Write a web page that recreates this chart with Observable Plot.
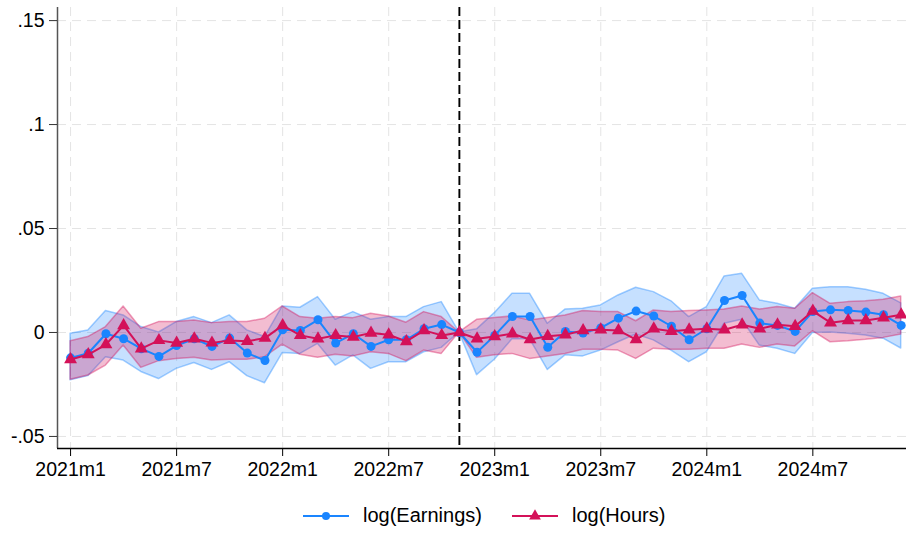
<!DOCTYPE html>
<html>
<head>
<meta charset="utf-8">
<script src="https://cdn.jsdelivr.net/npm/d3@7"></script>
<script src="https://cdn.jsdelivr.net/npm/@observablehq/plot@0.6"></script>
<style>
  html, body { margin: 0; padding: 0; background: #fff; }
  body { width: 906px; height: 536px; overflow: hidden; font-family: "Liberation Sans", Arial, sans-serif; }
  #legend { position: relative; height: 46px; width: 906px; }
  .item { position: absolute; top: 14px; display: flex; align-items: center; font-size: 20px; color: #000; }
  .item svg { margin-right: 14px; }
</style>
</head>
<body>
<div id="chart"></div>
<div id="legend"></div>
<script>
const months = ["2021m1","2021m2","2021m3","2021m4","2021m5","2021m6","2021m7","2021m8","2021m9","2021m10","2021m11","2021m12",
"2022m1","2022m2","2022m3","2022m4","2022m5","2022m6","2022m7","2022m8","2022m9","2022m10","2022m11","2022m12",
"2023m1","2023m2","2023m3","2023m4","2023m5","2023m6","2023m7","2023m8","2023m9","2023m10","2023m11","2023m12",
"2024m1","2024m2","2024m3","2024m4","2024m5","2024m6","2024m7","2024m8","2024m9","2024m10","2024m11","2024m12"];

const xTickLabels = ["2021m1","2021m7","2022m1","2022m7","2023m1","2023m7","2024m1","2024m7"];
const yTicks = [-0.05, 0, 0.05, 0.1, 0.15];
const yTickLabels = ["-.05", "0", ".05", ".1", ".15"];
const refMonth = "2022m11";

const earnings = [-0.0122,-0.010,-0.0006,-0.003,-0.0078,-0.0115,-0.0063,-0.003,-0.0067,-0.0027,-0.0099,-0.0135,
 0.0013,0.001,0.0061,-0.0051,-0.0006,-0.0067,-0.0035,-0.0035,0.0018,0.0038,0,-0.0095,
 -0.0014,0.0077,0.0077,-0.0071,0.0005,-0.0003,0.0022,0.0069,0.0103,0.0079,0.003,-0.0035,
 0.0018,0.0154,0.0178,0.0045,0.0034,0.0005,0.0101,0.0109,0.0106,0.0098,0.0085,0.0034];
const earningsHi = [-0.0006,0.001,0.0103,0.0082,0.0026,0,0.005,0.0074,0.0045,0.0082,0.001,-0.0022,
 0.0125,0.0119,0.017,0.0061,0.0098,0.0061,0.0074,0.0074,0.0122,0.0146,0,0.0015,
 0.0093,0.0186,0.0186,0.0042,0.011,0.0114,0.013,0.0178,0.0215,0.0194,0.015,0.0074,
 0.0122,0.0269,0.0282,0.0154,0.0138,0.0114,0.021,0.0218,0.0218,0.0205,0.0186,0.014];
const earningsLo = [-0.023,-0.021,-0.0119,-0.0135,-0.019,-0.0224,-0.0175,-0.0147,-0.018,-0.0143,-0.021,-0.0244,
 -0.0099,-0.0103,-0.0055,-0.0159,-0.011,-0.0175,-0.0143,-0.0143,-0.0095,-0.0074,0,-0.0205,
 -0.0131,-0.0033,-0.0033,-0.018,-0.011,-0.0115,-0.0087,-0.0047,-0.001,-0.0038,-0.0087,-0.0143,
 -0.0095,0.0042,0.0061,-0.0063,-0.0078,-0.0103,-0.0003,0,-0.0006,-0.0014,-0.003,-0.0077];

const hours = [-0.013,-0.0106,-0.0058,0.0034,-0.0078,-0.0038,-0.0051,-0.003,-0.005,-0.0038,-0.0042,-0.0027,
 0.0034,-0.0014,-0.003,-0.0014,-0.0022,-0.0002,-0.0011,-0.0043,0.001,-0.0014,0,-0.003,
 -0.0019,-0.0006,-0.0034,-0.0018,-0.0011,0.001,0.0013,0.001,-0.0034,0.0018,0.0006,0.0013,
 0.0018,0.0013,0.0037,0.0018,0.0037,0.003,0.0103,0.0047,0.0058,0.0058,0.0071,0.0085];
const hoursHi = [-0.0042,-0.0022,0.0026,0.0125,0.0018,0.005,0.005,0.0058,0.0045,0.005,0.005,0.0066,
 0.0125,0.0074,0.0066,0.0074,0.0069,0.009,0.0077,0.0047,0.0098,0.0074,0,0.0061,
 0.007,0.0077,0.0058,0.007,0.0082,0.0103,0.0098,0.0098,0.0054,0.0106,0.0098,0.0103,
 0.0106,0.011,0.0125,0.011,0.0122,0.0114,0.0189,0.0138,0.0146,0.015,0.0157,0.0173];
const hoursLo = [-0.0227,-0.0207,-0.0159,-0.0063,-0.017,-0.0138,-0.0127,-0.0122,-0.0135,-0.0131,-0.0131,-0.0119,
 -0.0058,-0.0107,-0.0122,-0.0107,-0.0115,-0.0095,-0.0103,-0.0138,-0.0087,-0.0103,0,-0.0122,
 -0.011,-0.0103,-0.0127,-0.0115,-0.0103,-0.0083,-0.0083,-0.0087,-0.0127,-0.0078,-0.0083,-0.0083,
 -0.0078,-0.0078,-0.0058,-0.0074,-0.0058,-0.0067,0.0006,-0.0047,-0.0042,-0.0035,-0.0026,-0.001];

const blue = "#1a85ff";
const red = "#d41159";

const data = months.map((m, i) => ({
  i, m,
  earn: earnings[i], earnHi: earningsHi[i], earnLo: earningsLo[i],
  hrs: hours[i], hrsHi: hoursHi[i], hrsLo: hoursLo[i]
}));

const xTickIdx = xTickLabels.map(l => months.indexOf(l));
const refIdx = months.indexOf(refMonth);
const xDomain = [-0.74, 47.3];
const yDomain = [-0.0558, 0.1563];
const grid = {stroke: "#e4e4e4", strokeOpacity: 1, strokeDasharray: "9,6", strokeWidth: 1};

const chart = Plot.plot({
  width: 906,
  height: 490,
  marginLeft: 57,
  marginRight: 0,
  marginTop: 7,
  marginBottom: 42,
  style: {fontFamily: "'Liberation Sans', Arial, sans-serif", fontSize: "19.5px", color: "#000", background: "#fff"},
  x: {type: "linear", domain: xDomain},
  y: {domain: yDomain},
  marks: [
    Plot.gridX(xTickIdx, grid),
    Plot.gridY(yTicks, grid),
    Plot.areaY(data, {x: "i", y1: "earnLo", y2: "earnHi", fill: blue, fillOpacity: 0.25, stroke: blue, strokeOpacity: 0.4, strokeWidth: 1.5}),
    Plot.areaY(data, {x: "i", y1: "hrsLo", y2: "hrsHi", fill: red, fillOpacity: 0.28, stroke: red, strokeOpacity: 0.4, strokeWidth: 1.5}),
    Plot.ruleX([refIdx], {stroke: "#000", strokeWidth: 1.9, strokeDasharray: "9,4"}),
    Plot.line(data, {x: "i", y: "earn", stroke: blue, strokeWidth: 2}),
    Plot.dot(data, {x: "i", y: "earn", fill: blue, r: 4.5, stroke: null}),
    Plot.line(data, {x: "i", y: "hrs", stroke: red, strokeWidth: 2}),
    Plot.dot(data, {x: "i", y: "hrs", fill: red, symbol: "triangle", r: 4.8, stroke: null}),
    Plot.ruleX([xDomain[0]], {stroke: "#555", strokeWidth: 1.5}),
    Plot.ruleY([yDomain[0]], {stroke: "#000", strokeWidth: 1.5}),
    Plot.axisY({ticks: yTicks, tickFormat: (d) => yTickLabels[yTicks.indexOf(d)], tickSize: 8, tickPadding: 5, stroke: "#333", fill: "#000", label: null}),
    Plot.axisX({ticks: xTickIdx, tickFormat: d => months[d], tickSize: 8, tickPadding: 6, stroke: "#000", fill: "#000", label: null})
  ]
});
document.getElementById("chart").appendChild(chart);

// Legend
const legend = document.getElementById("legend");
function addItem(left, color, shape, label) {
  const item = document.createElement("div");
  item.className = "item";
  item.style.left = left + "px";
  const ns = "http://www.w3.org/2000/svg";
  const s = document.createElementNS(ns, "svg");
  s.setAttribute("width", 46); s.setAttribute("height", 20);
  const ln = document.createElementNS(ns, "line");
  ln.setAttribute("x1", 0); ln.setAttribute("x2", 46); ln.setAttribute("y1", 10); ln.setAttribute("y2", 10);
  ln.setAttribute("stroke", color); ln.setAttribute("stroke-width", 2);
  s.appendChild(ln);
  if (shape === "circle") {
    const c = document.createElementNS(ns, "circle");
    c.setAttribute("cx", 23); c.setAttribute("cy", 10); c.setAttribute("r", 4); c.setAttribute("fill", color);
    s.appendChild(c);
  } else {
    const p = document.createElementNS(ns, "path");
    p.setAttribute("d", d3.symbol(d3.symbolTriangle, 60)());
    p.setAttribute("transform", "translate(23,10)");
    p.setAttribute("fill", color);
    s.appendChild(p);
  }
  item.appendChild(s);
  const t = document.createElement("span");
  t.textContent = label;
  item.appendChild(t);
  legend.appendChild(item);
}
addItem(303, blue, "circle", "log(Earnings)");
addItem(512, red, "triangle", "log(Hours)");
</script>
</body>
</html>
